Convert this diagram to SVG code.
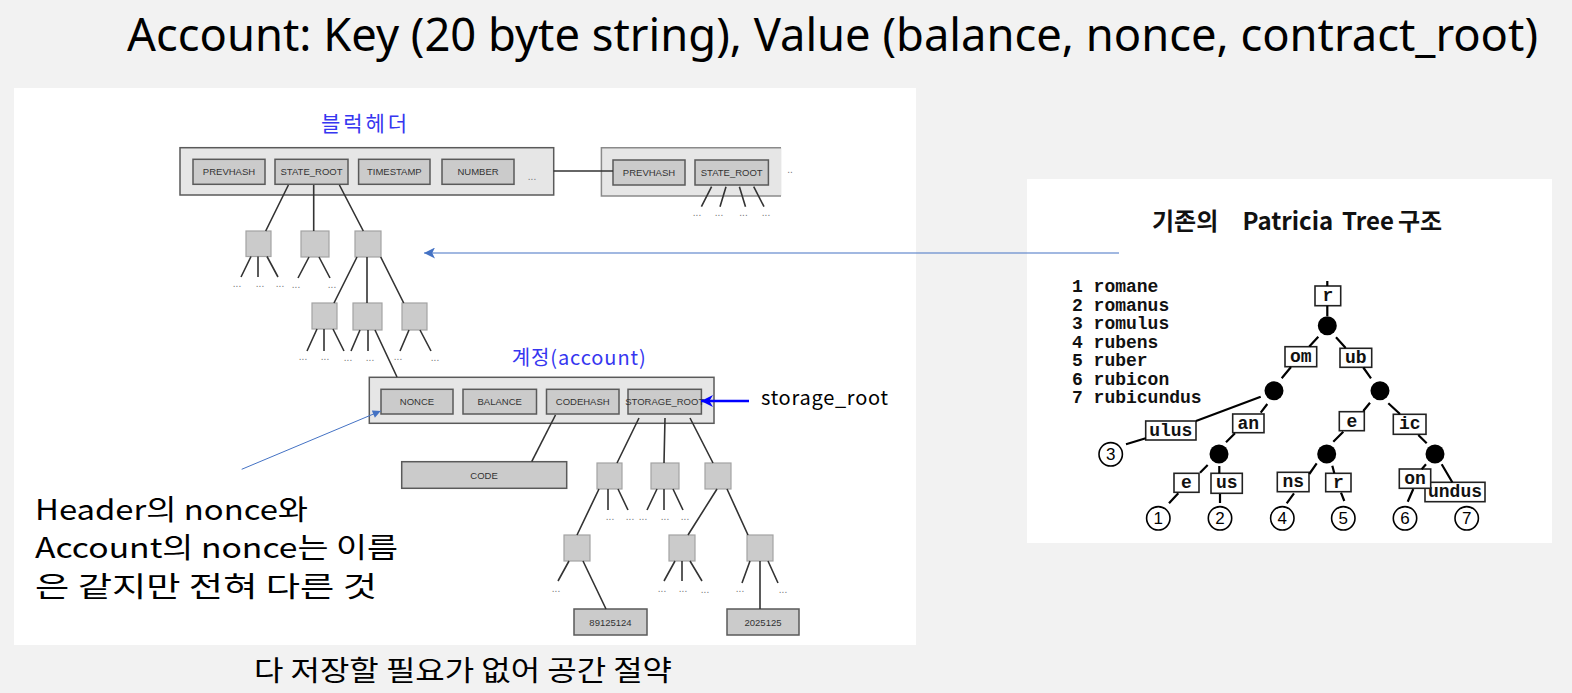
<svg xmlns="http://www.w3.org/2000/svg" width="1572" height="693" viewBox="0 0 1572 693">
<style>
.bg{fill:#f2f2f2}
.panel{fill:#ffffff}
.outer{fill:#e6e6e6;stroke:#5a5a5a;stroke-width:1.5}
.field{fill:#cbcbcb;stroke:#5a5a5a;stroke-width:1.5}
.node{fill:#cbcbcb;stroke:#a3a3a3;stroke-width:1.2}
.ft{font-family:"Liberation Sans",Arial,sans-serif;font-size:9.5px;fill:#333;text-anchor:middle}
.edge{stroke:#333;stroke-width:1.6;fill:none}
.dots{font-family:"Liberation Sans",Arial,sans-serif;font-size:10px;fill:#777;text-anchor:middle}
.ko{font-family:"Noto Sans CJK KR","Noto Sans",sans-serif}
.blue{fill:#3636f0}
.pt-edge{stroke:#000;stroke-width:2.2;fill:none}
.pbox{fill:#fff;stroke:#222;stroke-width:1.6}
.pt{font-family:"Liberation Mono","Courier New",monospace;font-weight:bold;font-size:18px;fill:#111;text-anchor:middle}
.dot{fill:#000}
.leaf{fill:#fff;stroke:#000;stroke-width:1.6}
.num{font-family:"Liberation Sans",Arial,sans-serif;font-size:17px;fill:#000;text-anchor:middle}
</style>
<defs>
<marker id="arrLB" viewBox="0 0 10 10" refX="10" refY="5" markerWidth="12" markerHeight="11" orient="auto" markerUnits="userSpaceOnUse"><path d="M0,0 L10,5 L0,10 L2.5,5 z" fill="#4472c4"/></marker>
<marker id="arrLBs" viewBox="0 0 10 10" refX="10" refY="5" markerWidth="9" markerHeight="8" orient="auto" markerUnits="userSpaceOnUse"><path d="M0,0 L10,5 L0,10 z" fill="#4472c4"/></marker>
<marker id="arrB" viewBox="0 0 10 10" refX="10" refY="5" markerWidth="12" markerHeight="13" orient="auto" markerUnits="userSpaceOnUse"><path d="M0,0 L10,5 L0,10 L3,5 z" fill="#0000ff"/></marker>
</defs>
<rect class="bg" x="0" y="0" width="1572" height="693"/>
<rect class="panel" x="14" y="88" width="902" height="557"/>
<rect class="panel" x="1027" y="179" width="525" height="364"/>

<text id="title" x="127" y="51" font-family="'Noto Sans','Open Sans',sans-serif" font-size="46" textLength="1411" lengthAdjust="spacingAndGlyphs" fill="#000">Account: Key (20 byte string), Value (balance, nonce, contract_root)</text>

<g id="header-title"><text class="ko blue" x="364" y="131" font-size="21" text-anchor="middle" textLength="86">블럭헤더</text></g>

<g id="header-block">
  <rect class="outer" x="180" y="147.7" width="373.7" height="47.3"/>
  <rect class="field" x="193" y="159.3" width="72" height="25"/><text class="ft" x="229" y="175">PREVHASH</text>
  <rect class="field" x="275" y="159.3" width="73" height="25"/><text class="ft" x="311.5" y="175">STATE_ROOT</text>
  <rect class="field" x="358.6" y="159.3" width="71.4" height="25"/><text class="ft" x="394.3" y="175">TIMESTAMP</text>
  <rect class="field" x="442" y="159.3" width="72" height="25"/><text class="ft" x="478" y="175">NUMBER</text>
  <text class="dots" x="532" y="180">...</text>
</g>

<g id="header-block-2">
  <rect x="601.4" y="147.7" width="180" height="48.3" fill="#e6e6e6"/>
  <path d="M781,147.7 H601.4 V196 H781" fill="none" stroke="#8a8a8a" stroke-width="1.5"/>
  <rect class="field" x="613" y="160" width="72" height="25"/><text class="ft" x="649" y="176">PREVHASH</text>
  <rect class="field" x="695" y="160" width="73.4" height="25"/><text class="ft" x="731.7" y="176">STATE_ROOT</text>
  <text class="dots" x="790" y="173">..</text>
  <text class="dots" x="697" y="216">...</text>
  <text class="dots" x="719" y="216">...</text>
  <text class="dots" x="743.5" y="216">...</text>
  <text class="dots" x="766" y="216">...</text>
</g>

<g id="state-tree">
  <rect class="node" x="246" y="231" width="25" height="25.5"/>
  <rect class="node" x="301" y="231" width="28" height="26"/>
  <rect class="node" x="355" y="231" width="26" height="26"/>
  <rect class="node" x="312" y="303" width="25" height="26"/>
  <rect class="node" x="353" y="303" width="29" height="27"/>
  <rect class="node" x="402" y="303" width="25" height="27"/>
  <text class="dots" x="237" y="287">...</text>
  <text class="dots" x="260" y="287">...</text>
  <text class="dots" x="280" y="287">...</text>
  <text class="dots" x="296" y="288">...</text>
  <text class="dots" x="332" y="288">...</text>
  <text class="dots" x="303" y="360">...</text>
  <text class="dots" x="325" y="360">...</text>
  <text class="dots" x="348" y="361">...</text>
  <text class="dots" x="370" y="361">...</text>
  <text class="dots" x="398" y="360">...</text>
  <text class="dots" x="435" y="361">...</text>
</g>

<g id="account-title"><text class="ko blue" x="511.7" y="365" font-size="20" textLength="134">계정(account)</text></g>

<g id="account-block">
  <rect class="outer" x="369.3" y="377.3" width="344.7" height="46"/>
  <rect class="field" x="381" y="389.3" width="72" height="24.7"/><text class="ft" x="417" y="405">NONCE</text>
  <rect class="field" x="463" y="389.3" width="73.5" height="24.7"/><text class="ft" x="499.7" y="405">BALANCE</text>
  <rect class="field" x="546.5" y="389.3" width="72.5" height="24.7"/><text class="ft" x="582.7" y="405">CODEHASH</text>
  <rect class="field" x="628" y="389.3" width="73.4" height="24.7"/><text class="ft" x="664.7" y="404.5" font-size="7.8">STORAGE_ROOT</text>
</g>

<g id="storage-label"><text x="761" y="405" font-family="'Noto Sans CJK KR','Noto Sans',sans-serif" font-size="20" textLength="127" fill="#000">storage_root</text></g>

<g id="code-box">
  <rect class="field" x="401.7" y="461.7" width="165" height="26.6"/><text class="ft" x="484" y="478.5" font-size="9">CODE</text>
</g>

<g id="storage-tree">
  <rect class="node" x="597" y="463" width="25" height="26"/>
  <rect class="node" x="651" y="463" width="28" height="26"/>
  <rect class="node" x="705" y="463" width="26" height="26"/>
  <rect class="node" x="564" y="535" width="26" height="26"/>
  <rect class="node" x="669" y="535" width="26" height="26"/>
  <rect class="node" x="747" y="535" width="26" height="26"/>
  <text class="dots" x="610" y="520">...</text>
  <text class="dots" x="630" y="520">...</text>
  <text class="dots" x="643" y="520">...</text>
  <text class="dots" x="665" y="520">...</text>
  <text class="dots" x="685" y="520">...</text>
  <text class="dots" x="556" y="592">...</text>
  <text class="dots" x="662" y="592">...</text>
  <text class="dots" x="683" y="592">...</text>
  <text class="dots" x="705" y="593">...</text>
  <text class="dots" x="740" y="592">...</text>
  <text class="dots" x="783" y="593">...</text>
</g>

<g id="leaf-89125124">
  <rect class="field" x="574" y="609" width="73" height="26" stroke="#777"/><text class="ft" x="610.5" y="625.5">89125124</text>
</g>
<g id="leaf-2025125">
  <rect class="field" x="727" y="609" width="72" height="26" stroke="#777"/><text class="ft" x="763" y="625.5">2025125</text>
</g>

<g id="nonce-note">
  <text class="ko" x="35" y="520" font-size="28" textLength="273" lengthAdjust="spacingAndGlyphs" fill="#000">Header의 nonce와</text>
  <text class="ko" x="35" y="558.3" font-size="28" textLength="363" lengthAdjust="spacingAndGlyphs" fill="#000">Account의 nonce는 이름</text>
  <text class="ko" x="35" y="596.7" font-size="28" textLength="342" lengthAdjust="spacingAndGlyphs" fill="#000">은 같지만 전혀 다른 것</text>
</g>

<g id="bottom-note">
  <text class="ko" x="254" y="681" font-size="28" textLength="418" lengthAdjust="spacingAndGlyphs" fill="#000">다 저장할 필요가 없어 공간 절약</text>
</g>

<g id="patricia-title">
  <text class="ko" y="230" font-size="24" font-weight="bold" fill="#111"><tspan x="1152">기존의</tspan><tspan x="1242.5">Patricia</tspan><tspan x="1342">Tree</tspan><tspan x="1398">구조</tspan></text>
</g>

<g id="patricia-list" font-family="'Liberation Mono','Courier New',monospace" font-weight="bold" font-size="18" fill="#111">
  <text x="1072" y="292">1 romane</text>
  <text x="1072" y="310.5">2 romanus</text>
  <text x="1072" y="329">3 romulus</text>
  <text x="1072" y="347.5">4 rubens</text>
  <text x="1072" y="366">5 ruber</text>
  <text x="1072" y="384.5">6 rubicon</text>
  <text x="1072" y="403">7 rubicundus</text>
</g>

<g id="p-r"><rect class="pbox" x="1315" y="286" width="25.7" height="19.7"/><text class="pt" x="1327.8" y="301">r</text></g>
<g id="p-root"><circle class="dot" cx="1327.3" cy="325.7" r="9.5"/></g>
<g id="p-om"><rect class="pbox" x="1285" y="346.7" width="31.7" height="20"/><text class="pt" x="1300.8" y="361.7">om</text></g>
<g id="p-ub"><rect class="pbox" x="1340" y="348.3" width="31.7" height="19"/><text class="pt" x="1355.8" y="363">ub</text></g>
<g id="p-dotL"><circle class="dot" cx="1274" cy="390.7" r="9.5"/></g>
<g id="p-dotR"><circle class="dot" cx="1380" cy="390.7" r="9.5"/></g>
<g id="p-ulus"><rect class="pbox" x="1145.7" y="421" width="50.3" height="19"/><text class="pt" x="1170.8" y="435.7">ulus</text></g>
<g id="p-an"><rect class="pbox" x="1232.7" y="414" width="31.3" height="18.7"/><text class="pt" x="1248.3" y="428.7">an</text></g>
<g id="p-e1"><rect class="pbox" x="1339.3" y="411.7" width="25" height="19"/><text class="pt" x="1351.8" y="426.5">e</text></g>
<g id="p-ic"><rect class="pbox" x="1393.3" y="414.3" width="32.7" height="20"/><text class="pt" x="1409.7" y="429.3">ic</text></g>
<g id="p-dotA"><circle class="dot" cx="1219" cy="454" r="9.5"/></g>
<g id="p-dotB"><circle class="dot" cx="1326.7" cy="454" r="9.5"/></g>
<g id="p-dotC"><circle class="dot" cx="1435" cy="454" r="9.5"/></g>
<g id="p-e2"><rect class="pbox" x="1174" y="473.3" width="25" height="19"/><text class="pt" x="1186.5" y="488">e</text></g>
<g id="p-us"><rect class="pbox" x="1211" y="473.3" width="31.3" height="20"/><text class="pt" x="1226.7" y="488">us</text></g>
<g id="p-ns"><rect class="pbox" x="1277.3" y="472.3" width="31.7" height="19.4"/><text class="pt" x="1293.2" y="487">ns</text></g>
<g id="p-r2"><rect class="pbox" x="1325.7" y="473.3" width="25.3" height="18.4"/><text class="pt" x="1338.3" y="487.5">r</text></g>
<g id="p-undus"><rect class="pbox" x="1425" y="482.3" width="60" height="19.4"/><text class="pt" x="1455" y="497">undus</text></g>
<g id="p-on"><rect class="pbox" x="1399.3" y="469" width="31.4" height="19.3"/><text class="pt" x="1415" y="484">on</text></g>
<g id="p-3"><circle class="leaf" cx="1110.7" cy="454.3" r="11.7"/><text class="num" x="1110.7" y="460.3">3</text></g>
<g id="p-1"><circle class="leaf" cx="1158.3" cy="518.3" r="11.7"/><text class="num" x="1158.3" y="524.3">1</text></g>
<g id="p-2"><circle class="leaf" cx="1220" cy="518.3" r="11.7"/><text class="num" x="1220" y="524.3">2</text></g>
<g id="p-4"><circle class="leaf" cx="1282.3" cy="518.3" r="11.7"/><text class="num" x="1282.3" y="524.3">4</text></g>
<g id="p-5"><circle class="leaf" cx="1343.3" cy="518.3" r="11.7"/><text class="num" x="1343.3" y="524.3">5</text></g>
<g id="p-6"><circle class="leaf" cx="1405" cy="518.3" r="11.7"/><text class="num" x="1405" y="524.3">6</text></g>
<g id="p-7"><circle class="leaf" cx="1466.7" cy="518.3" r="11.7"/><text class="num" x="1466.7" y="524.3">7</text></g>

<g id="connectors">
  <path class="edge" d="M288.4,185 L265.7,231 M313.7,185 V231 M339.4,185 L363.3,231"/>
  <path class="edge" d="M251,256.5 L241,277 M258,256.5 V277 M267,256.5 L278,277"/>
  <path class="edge" d="M309,257 L298,278 M319,257 L330,278"/>
  <path class="edge" d="M357,257 L334,303 M367,257 V303 M380.7,257 L403.7,303"/>
  <path class="edge" d="M317,329 L307,351 M324,329 V351 M333,329 L344,351"/>
  <path class="edge" d="M360,330 L351,351 M368,330 V351 M375,330 L397,377"/>
  <path class="edge" d="M409,330 L400,351 M420,330 L431,351"/>
  <path class="edge" d="M553.7,171 H613"/>
  <path class="edge" d="M711.6,186.7 L701.4,206.7 M726,186.7 L720,206.7 M739.4,186.7 L745.5,206.7 M753.7,186.7 L764,206.7"/>
  <path class="edge" d="M555.5,415 L531.7,461.7"/>
  <path class="edge" d="M639,418 L617,463 M665,418 L664,463 M690,418 L713,463"/>
  <path class="edge" d="M599,489 L577,535 M608,489 V510 M618,489 L628,510"/>
  <path class="edge" d="M657,489 L647,510 M664,489 V510 M673,489 L683,510"/>
  <path class="edge" d="M717,489 L688,535 M727,489 L748,535"/>
  <path class="edge" d="M569,561 L558,581 M583,561 L606,609"/>
  <path class="edge" d="M675,561 L664,581 M682,561 V581 M690,561 L702,581"/>
  <path class="edge" d="M750,561 L742,583 M760,561 V609 M768,561 L778,583"/>
  <path d="M1119,253 H424" stroke="#4472c4" stroke-width="1.2" fill="none" marker-end="url(#arrLB)"/>
  <path d="M749,401 H701" stroke="#0000ff" stroke-width="2.5" fill="none" marker-end="url(#arrB)"/>
  <path d="M241.7,469.3 L380.7,411" stroke="#4472c4" stroke-width="1" fill="none" marker-end="url(#arrLBs)"/>
  <path class="pt-edge" d="M1327.3,281 V286 M1327.3,305.7 V316"/>
  <path class="pt-edge" d="M1318.3,336.7 L1309.3,346.5 M1336,337.3 L1345.7,348"/>
  <path class="pt-edge" d="M1291,367 L1281.7,378.3 M1363.3,367.5 L1371,378.3"/>
  <path class="pt-edge" d="M1260.7,396.7 L1196,421 M1145.7,438.3 L1126,444.3"/>
  <path class="pt-edge" d="M1267.3,404 L1260.7,412.7 M1235,433.3 L1226,442.3"/>
  <path class="pt-edge" d="M1207.7,465 L1200,472.7 M1219.3,466 V473.3 M1178.3,493.3 L1169,503.3 M1220,494 V503"/>
  <path class="pt-edge" d="M1370,402.7 L1363.3,411 M1388.3,403.3 L1400,414"/>
  <path class="pt-edge" d="M1343.3,431.7 L1333.3,441.7 M1418.3,435 L1426.7,443.3"/>
  <path class="pt-edge" d="M1316.7,463.3 L1309.3,474 M1332.3,465.7 L1334.3,473.3 M1294,493.3 L1286.7,503.3 M1341,492.7 L1344.3,501"/>
  <path class="pt-edge" d="M1426,464.3 L1421.7,469.3 M1441.7,464.3 L1452.3,482.3 M1413.3,489 L1407.7,501.7"/>
</g>
</svg>
